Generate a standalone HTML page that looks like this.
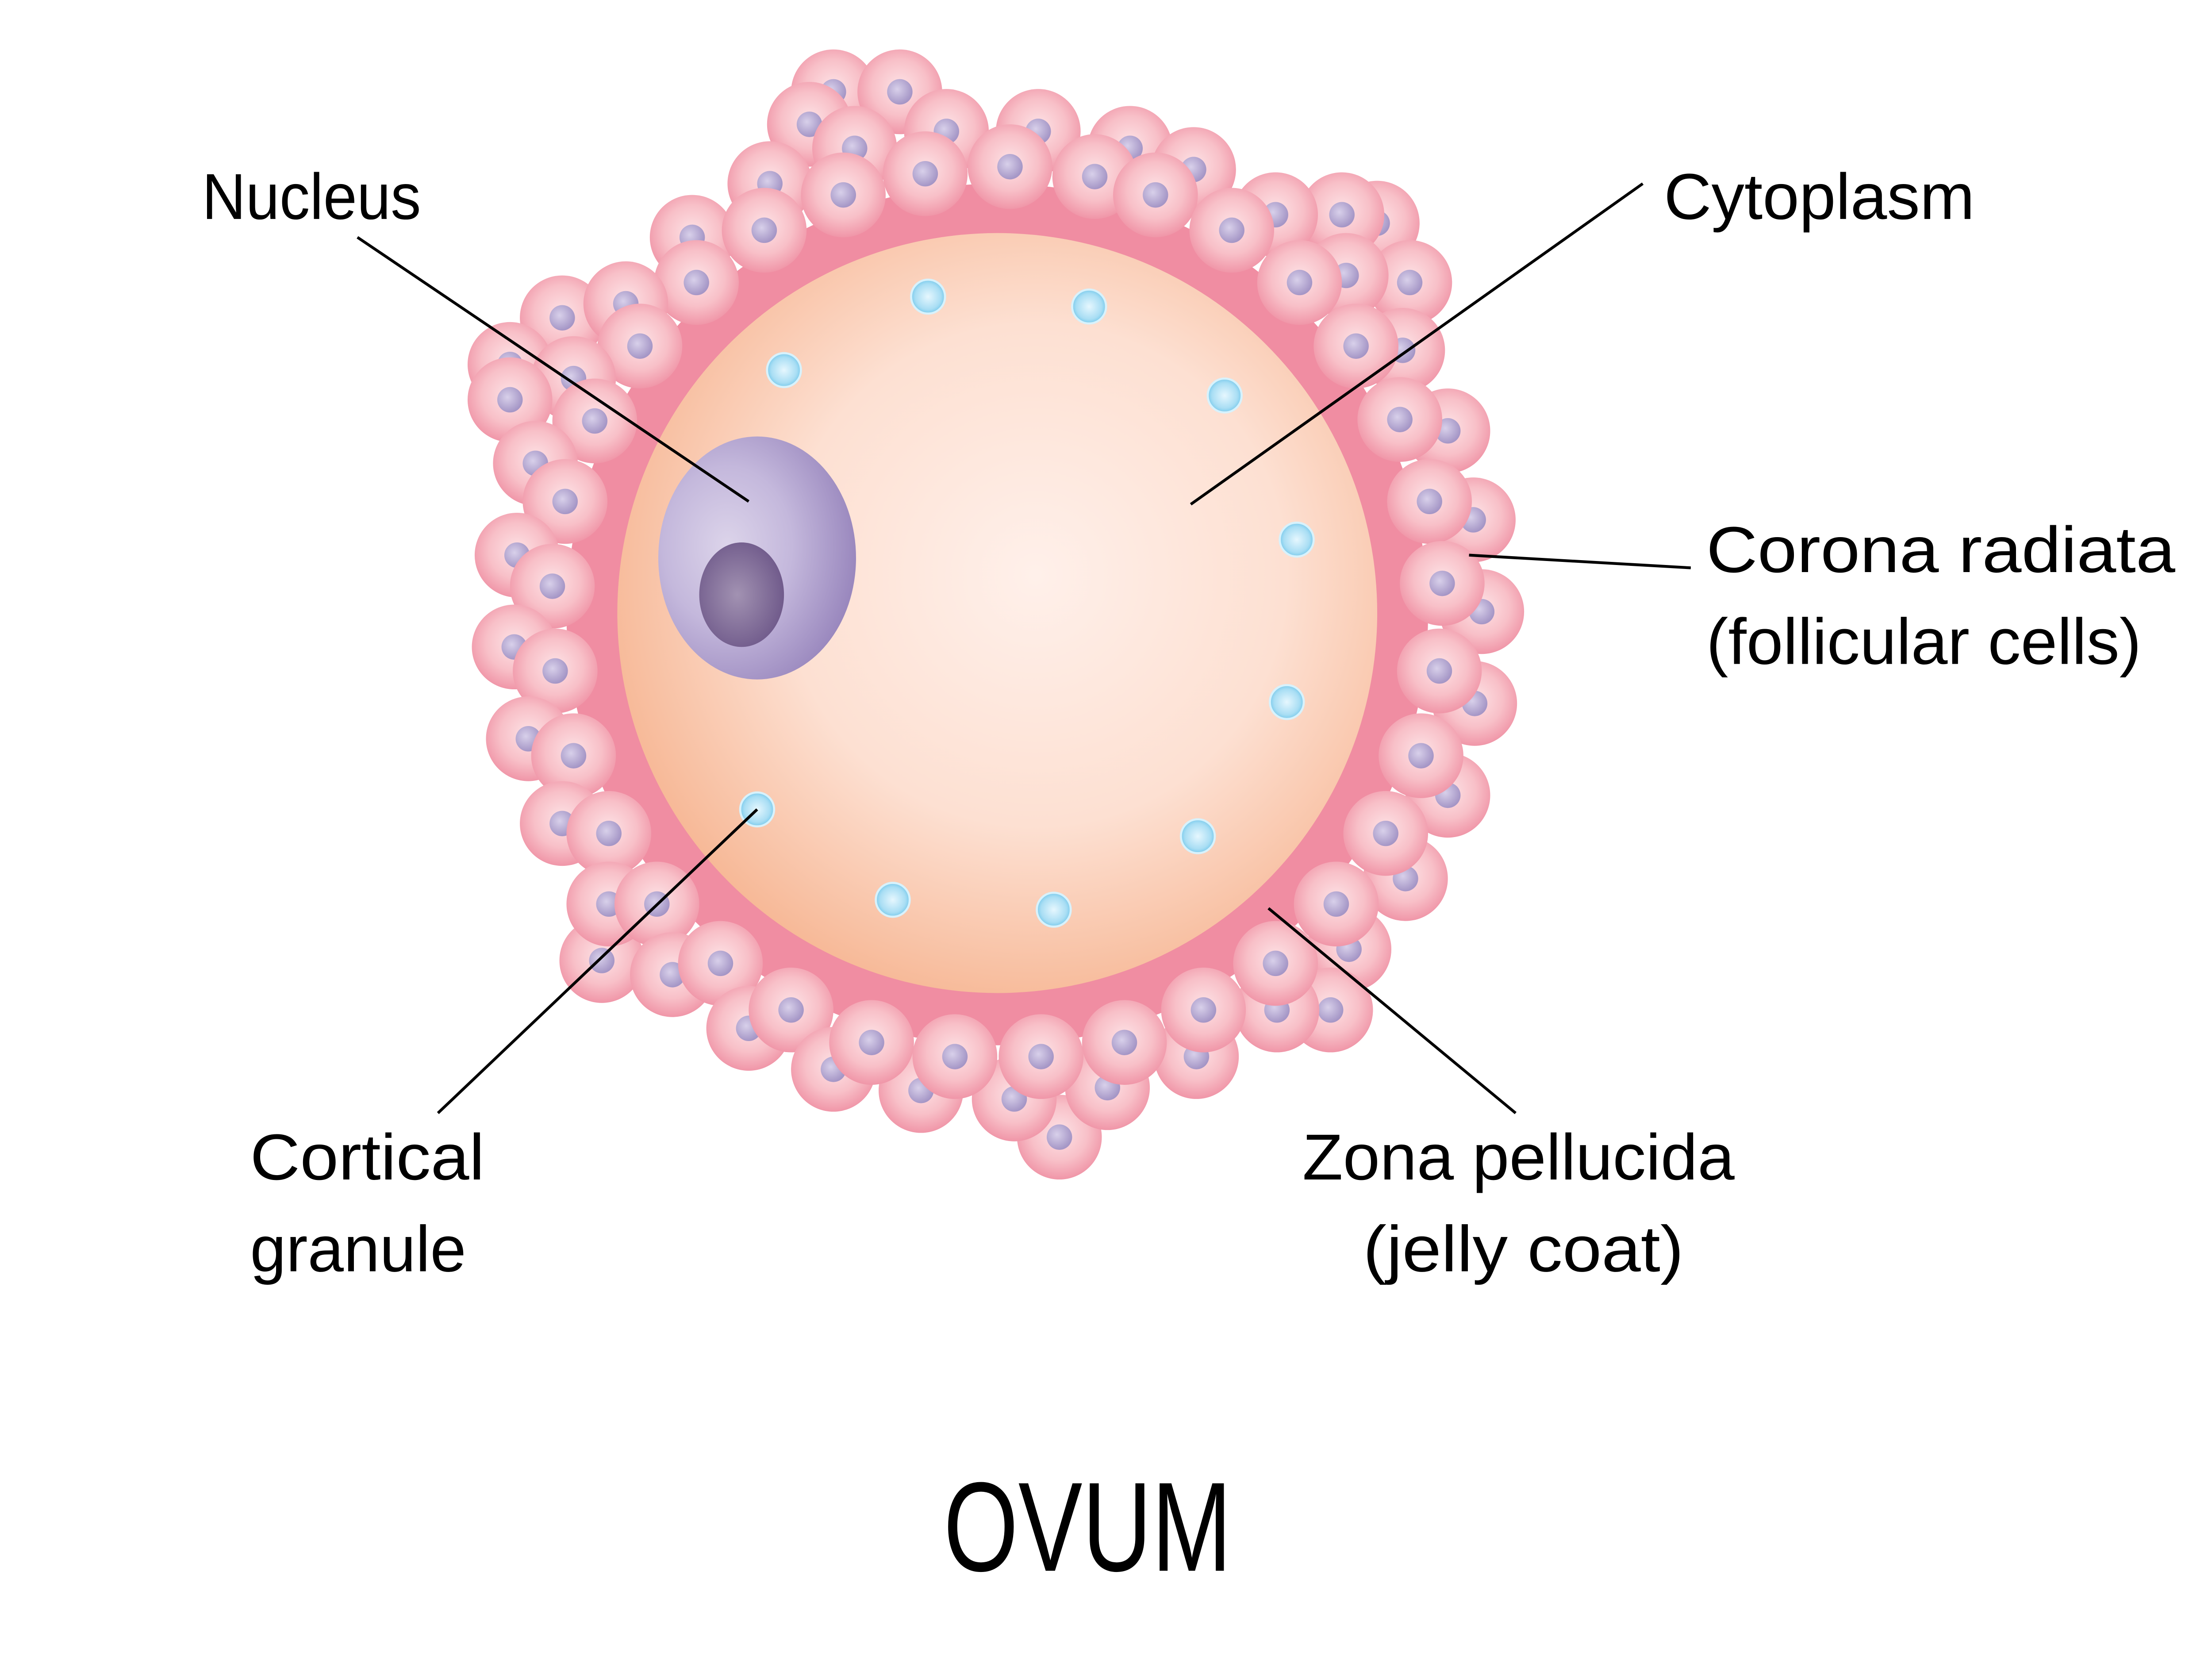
<!DOCTYPE html>
<html><head><meta charset="utf-8"><style>html,body{margin:0;padding:0;background:#fff}svg{display:block}</style></head>
<body>
<svg width="5147" height="3761" viewBox="0 0 1612 1178" xmlns="http://www.w3.org/2000/svg">
<defs>
<radialGradient id="cyt" cx="0.55" cy="0.45" r="0.6"><stop offset="0" stop-color="#fff0ea"/><stop offset="0.55" stop-color="#fde0d2"/><stop offset="1" stop-color="#f6b490"/></radialGradient>
<radialGradient id="cell" cx="0.5" cy="0.45" r="0.55"><stop offset="0" stop-color="#fde3e6"/><stop offset="0.6" stop-color="#f8c0c8"/><stop offset="1" stop-color="#f096a8"/></radialGradient>
<radialGradient id="cn" cx="0.4" cy="0.4" r="0.6"><stop offset="0" stop-color="#d8d0ea"/><stop offset="1" stop-color="#a596c6"/></radialGradient>
<radialGradient id="nuc" cx="0.35" cy="0.45" r="0.65"><stop offset="0" stop-color="#dcd4ea"/><stop offset="0.5" stop-color="#c4b8dc"/><stop offset="1" stop-color="#9a88be"/></radialGradient>
<radialGradient id="nl" cx="0.45" cy="0.5" r="0.6"><stop offset="0" stop-color="#a292b2"/><stop offset="1" stop-color="#6c5688"/></radialGradient>
<radialGradient id="gr" cx="0.5" cy="0.5" r="0.5"><stop offset="0" stop-color="#e6f7fe"/><stop offset="0.75" stop-color="#a9def4"/><stop offset="1" stop-color="#7ccbec"/></radialGradient>
<g id="c"><circle r="30" fill="url(#cell)"/><circle r="9" fill="url(#cn)"/></g>
</defs>
<circle cx="706" cy="435" r="305" fill="#f08da2"/>
<g>
<use href="#c" x="590" y="65"/><use href="#c" x="637" y="65"/><use href="#c" x="573" y="88"/><use href="#c" x="605" y="105"/><use href="#c" x="670" y="93"/><use href="#c" x="735" y="93"/><use href="#c" x="800" y="105"/><use href="#c" x="545" y="130"/><use href="#c" x="597" y="138"/><use href="#c" x="655" y="123"/><use href="#c" x="715" y="118"/><use href="#c" x="775" y="125"/><use href="#c" x="845" y="120"/><use href="#c" x="818" y="138"/><use href="#c" x="490" y="168"/><use href="#c" x="541" y="163"/><use href="#c" x="975" y="158"/><use href="#c" x="950" y="152"/><use href="#c" x="903" y="152"/><use href="#c" x="872" y="163"/><use href="#c" x="998" y="200"/><use href="#c" x="953" y="195"/><use href="#c" x="920" y="200"/><use href="#c" x="493" y="200"/><use href="#c" x="398" y="225"/><use href="#c" x="443" y="215"/><use href="#c" x="453" y="245"/><use href="#c" x="993" y="248"/><use href="#c" x="960" y="245"/><use href="#c" x="361" y="258"/><use href="#c" x="406" y="268"/><use href="#c" x="361" y="283"/><use href="#c" x="421" y="298"/><use href="#c" x="1025" y="305"/><use href="#c" x="991" y="297"/><use href="#c" x="379" y="328"/><use href="#c" x="400" y="355"/><use href="#c" x="1043" y="368"/><use href="#c" x="1012" y="355"/><use href="#c" x="366" y="393"/><use href="#c" x="391" y="415"/><use href="#c" x="1049" y="433"/><use href="#c" x="1021" y="413"/><use href="#c" x="364" y="458"/><use href="#c" x="393" y="475"/><use href="#c" x="1044" y="498"/><use href="#c" x="1019" y="475"/><use href="#c" x="374" y="523"/><use href="#c" x="406" y="535"/><use href="#c" x="1025" y="563"/><use href="#c" x="1006" y="535"/><use href="#c" x="398" y="583"/><use href="#c" x="431" y="590"/><use href="#c" x="995" y="622"/><use href="#c" x="981" y="590"/><use href="#c" x="955" y="672"/><use href="#c" x="946" y="640"/><use href="#c" x="426" y="680"/><use href="#c" x="431" y="640"/><use href="#c" x="465" y="640"/><use href="#c" x="476" y="690"/><use href="#c" x="510" y="682"/><use href="#c" x="942" y="715"/><use href="#c" x="904" y="715"/><use href="#c" x="903" y="682"/><use href="#c" x="530" y="728"/><use href="#c" x="560" y="715"/><use href="#c" x="750" y="805"/><use href="#c" x="590" y="757"/><use href="#c" x="652" y="772"/><use href="#c" x="718" y="778"/><use href="#c" x="784" y="770"/><use href="#c" x="847" y="748"/><use href="#c" x="617" y="738"/><use href="#c" x="676" y="748"/><use href="#c" x="737" y="748"/><use href="#c" x="796" y="738"/><use href="#c" x="852" y="715"/>
</g>
<circle cx="706" cy="434" r="269" fill="url(#cyt)"/>
<ellipse cx="536" cy="395" rx="70" ry="86" fill="url(#nuc)"/>
<ellipse cx="525" cy="421" rx="30" ry="37" fill="url(#nl)"/>
<g fill="url(#gr)" stroke="#d8f2fc" stroke-width="1.5">
<circle cx="657" cy="210" r="12"/><circle cx="771" cy="217" r="12"/><circle cx="555" cy="262" r="12"/><circle cx="867" cy="280" r="12"/><circle cx="918" cy="382" r="12"/><circle cx="911" cy="497" r="12"/><circle cx="536" cy="573" r="12"/><circle cx="848" cy="592" r="12"/><circle cx="632" cy="637" r="12"/><circle cx="746" cy="644" r="12"/>
</g>
<g stroke="#000" stroke-width="2" fill="none">
<line x1="253" y1="168" x2="530" y2="355"/>
<line x1="1163" y1="130" x2="843" y2="357"/>
<line x1="1040" y1="393" x2="1197" y2="402"/>
<line x1="310" y1="788" x2="536" y2="573"/>
<line x1="898" y1="643" x2="1073" y2="788"/>
</g>
<g font-family="Liberation Sans, sans-serif" font-size="46" fill="#000" lengthAdjust="spacingAndGlyphs">
<text x="143" y="155" textLength="155" lengthAdjust="spacingAndGlyphs">Nucleus</text>
<text x="1178" y="155" textLength="220" lengthAdjust="spacingAndGlyphs">Cytoplasm</text>
<text x="1208" y="405" textLength="332" lengthAdjust="spacingAndGlyphs">Corona radiata</text>
<text x="1208" y="470" textLength="308" lengthAdjust="spacingAndGlyphs">(follicular cells)</text>
<text x="177" y="835" textLength="166" lengthAdjust="spacingAndGlyphs">Cortical</text>
<text x="177" y="900" textLength="153" lengthAdjust="spacingAndGlyphs">granule</text>
<text x="922" y="835" textLength="306" lengthAdjust="spacingAndGlyphs">Zona pellucida</text>
<text x="965" y="900" textLength="227" lengthAdjust="spacingAndGlyphs">(jelly coat)</text>
<text x="668" y="1112" font-size="90" textLength="204" lengthAdjust="spacingAndGlyphs">OVUM</text>
</g>
</svg>
</body></html>
